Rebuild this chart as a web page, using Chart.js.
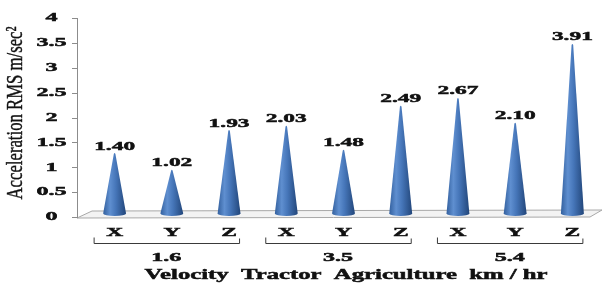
<!DOCTYPE html>
<html>
<head>
<meta charset="utf-8">
<script src="https://cdn.jsdelivr.net/npm/chart.js@4"></script>
<style>
  html, body { margin: 0; padding: 0; background: #fff; }
  #wrap { width: 605px; height: 283px; }
</style>
</head>
<body>
<div id="wrap"><canvas id="coneChart" width="605" height="283"></canvas></div>
<script>
// datos del grafico
const ejes = ['X', 'Y', 'Z', 'X', 'Y', 'Z', 'X', 'Y', 'Z'];
const aceleracion = [1.40, 1.02, 1.93, 2.03, 1.48, 2.49, 2.67, 2.10, 3.91];
const velocidades = ['1.6', '3.5', '5.4'];
const yTicks = [0, 0.5, 1, 1.5, 2, 2.5, 3, 3.5, 4];
const yTickLabels = ['0', '0.5', '1', '1.5', '2', '2.5', '3', '3.5', '4'];
const tituloY = 'Acceleration RMS m/sec\u00B2';
const tituloX = 'Velocity  Tractor  Agriculture  km / hr';

const SERIF = '"Liberation Serif", "Times New Roman", serif';
const INK = '#111111';

// texto estirado horizontalmente (la imagen original esta ensanchada)
function texto(ctx, txt, x, y, font, sx, align, baseline) {
    ctx.save();
    ctx.font = font;
    ctx.fillStyle = INK;
    ctx.strokeStyle = INK;
    ctx.lineWidth = 0.5;
    ctx.textAlign = align || 'center';
    ctx.textBaseline = baseline || 'middle';
    ctx.translate(x, y);
    ctx.scale(sx, 1);
    ctx.fillText(txt, 0, 0);
    ctx.strokeText(txt, 0, 0);
    ctx.restore();
}

const conos = {
    id: 'conos',
    beforeDatasetsDraw(chart) {
        const ctx = chart.ctx;
        const area = chart.chartArea;
        const y = chart.scales.y;
        const ejeX = area.left - 9;
        const y0 = y.getPixelForValue(0);

        // piso 3D
        ctx.save();
        ctx.beginPath();
        ctx.moveTo(ejeX, y0 + 1);
        ctx.lineTo(ejeX + 15, y0 - 6);
        ctx.lineTo(area.right + 1, y0 - 7);
        ctx.lineTo(area.right - 11, y0);
        ctx.closePath();
        ctx.fillStyle = '#f3f3f3';
        ctx.fill();
        ctx.strokeStyle = '#a8a8a8';
        ctx.lineWidth = 1;
        ctx.stroke();

        // eje vertical
        ctx.beginPath();
        ctx.moveTo(ejeX + 0.5, y.getPixelForValue(4));
        ctx.lineTo(ejeX + 0.5, y0 + 1);
        yTicks.forEach(v => {
            const py = Math.round(y.getPixelForValue(v)) + 0.5;
            ctx.moveTo(ejeX - 5, py);
            ctx.lineTo(ejeX + 0.5, py);
        });
        ctx.strokeStyle = '#8c8c8c';
        ctx.stroke();
        ctx.restore();

        yTicks.forEach((v, i) => {
            texto(ctx, yTickLabels[i], 51.5, y.getPixelForValue(v), 'bold 13px ' + SERIF, 1.85);
        });

        // titulo del eje Y
        ctx.save();
        ctx.font = '17px ' + SERIF;
        const largo = ctx.measureText(tituloY).width;
        ctx.translate(16, 113);
        ctx.rotate(-Math.PI / 2);
        ctx.scale(173 / largo, 1.4);
        ctx.fillStyle = INK;
        ctx.strokeStyle = INK;
        ctx.lineWidth = 0.3;
        ctx.textAlign = 'center';
        ctx.textBaseline = 'middle';
        ctx.fillText(tituloY, 0, 0);
        ctx.strokeText(tituloY, 0, 0);
        ctx.restore();
    },
    afterDatasetsDraw(chart) {
        const ctx = chart.ctx;
        const meta = chart.getDatasetMeta(0);
        const y0 = chart.scales.y.getPixelForValue(0);

        meta.data.forEach((el, i) => {
            const x = el.x, tip = el.y, base = el.base, w = el.width / 2;
            const g = ctx.createLinearGradient(x - w, 0, x + w, 0);
            g.addColorStop(0, '#33609e');
            g.addColorStop(0.3, '#5f8fd0');
            g.addColorStop(0.55, '#4676b9');
            g.addColorStop(1, '#22467a');
            ctx.save();
            ctx.beginPath();
            ctx.moveTo(x - w, base);
            ctx.lineTo(x - 0.8, tip + 1.5);
            ctx.quadraticCurveTo(x, tip - 0.5, x + 0.8, tip + 1.5);
            ctx.lineTo(x + w, base);
            ctx.ellipse(x, base, w, 2.5, 0, 0, Math.PI, false);
            ctx.closePath();
            ctx.fillStyle = g;
            ctx.fill();
            ctx.restore();

            texto(ctx, aceleracion[i].toFixed(2), x, tip - 3, 'bold 13px ' + SERIF, 1.8, 'center', 'alphabetic');
            texto(ctx, ejes[i], x, y0 + 16, 'bold 13px ' + SERIF, 1.8);
        });

        // corchetes de grupo y velocidades
        ctx.save();
        ctx.strokeStyle = '#3a3a3a';
        ctx.lineWidth = 1;
        velocidades.forEach((vel, gi) => {
            const a = meta.data[gi * 3].x - 21;
            const b = meta.data[gi * 3 + 2].x + 10;
            const ly = y0 + 26.5;
            ctx.beginPath();
            ctx.moveTo(a + 0.5, ly - 6);
            ctx.lineTo(a + 0.5, ly);
            ctx.lineTo(b + 0.5, ly);
            ctx.lineTo(b + 0.5, ly - 5);
            ctx.stroke();
            texto(ctx, vel, (a + b) / 2, y0 + 41, 'bold 13px ' + SERIF, 1.85);
        });
        ctx.restore();

        // titulo del eje X
        ctx.save();
        ctx.font = 'bold 15px ' + SERIF;
        const ancho = ctx.measureText(tituloX).width;
        ctx.restore();
        texto(ctx, tituloX, 346, y0 + 58, 'bold 15px ' + SERIF, 403 / ancho);
    }
};

new Chart(document.getElementById('coneChart'), {
    type: 'bar',
    data: {
        labels: ejes,
        datasets: [{
            data: aceleracion,
            yAxisID: 'yc',
            backgroundColor: 'rgba(0,0,0,0)',
            borderWidth: 0,
            categoryPercentage: 1,
            barPercentage: 0.4
        }]
    },
    options: {
        responsive: false,
        animation: false,
        layout: { padding: { left: 86, right: 4, top: 18, bottom: 66 } },
        plugins: {
            legend: { display: false },
            tooltip: { enabled: false }
        },
        scales: {
            x: { display: false },
            y: { display: false, min: 0, max: 4 },
            yc: { display: false, min: -0.08, max: 4.495 }
        }
    },
    plugins: [conos]
});
</script>
</body>
</html>
